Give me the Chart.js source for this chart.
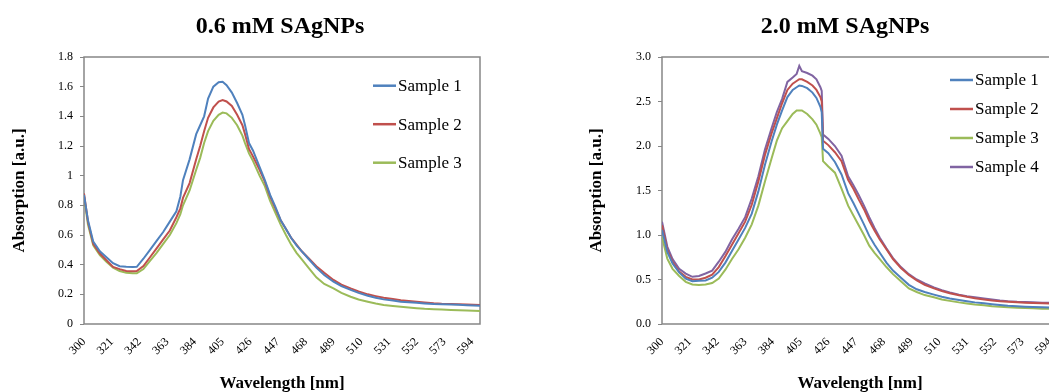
<!DOCTYPE html>
<html>
<head>
<meta charset="utf-8">
<script src="https://cdn.jsdelivr.net/npm/chart.js@4/dist/chart.umd.min.js"></script>
<style>
  html, body { margin: 0; padding: 0; background: #fff; overflow: hidden; width: 1049px; height: 392px; }
  canvas { position: absolute; top: 0; }
  #c1 { left: 0px; }
  #c2 { left: 580px; }
</style>
</head>
<body>
<canvas id="c1" width="560" height="392"></canvas>
<canvas id="c2" width="530" height="392"></canvas>
<script>
// ---------- data ----------
const xTickLabels = [300, 321, 342, 363, 384, 405, 426, 447, 468, 489, 510, 531, 552, 573, 594];

// Panel 1: 0.6 mM SAgNPs
const title1 = "0.6 mM SAgNPs";
const wavelengths1 = [300,303,307,312,317,322,327,332,337,340,345,350,355,360,365,370,373,375,380,385,388,391,394,398,402,405,408,412,416,420,422,425,428,433,437,441,445,449,453,457,461,465,470,476,482,489,495,502,508,515,521,527,534,540,546,552,558,565,571,578,584,590,595,600];
const p1Sample1 = [0.87,0.70,0.555,0.49,0.45,0.41,0.39,0.386,0.384,0.385,0.44,0.50,0.56,0.62,0.69,0.76,0.86,0.97,1.11,1.28,1.34,1.40,1.52,1.60,1.63,1.633,1.61,1.56,1.49,1.41,1.34,1.22,1.17,1.06,0.97,0.87,0.79,0.70,0.64,0.58,0.53,0.49,0.44,0.38,0.33,0.285,0.255,0.23,0.21,0.19,0.177,0.166,0.158,0.15,0.146,0.143,0.139,0.135,0.133,0.131,0.129,0.127,0.125,0.123];
const p1Sample2 = [0.88,0.69,0.54,0.475,0.43,0.385,0.37,0.358,0.355,0.357,0.39,0.45,0.51,0.57,0.63,0.72,0.78,0.85,0.95,1.11,1.20,1.30,1.39,1.46,1.50,1.51,1.50,1.47,1.41,1.34,1.28,1.18,1.13,1.04,0.96,0.86,0.78,0.70,0.64,0.58,0.535,0.49,0.445,0.39,0.345,0.297,0.265,0.24,0.22,0.20,0.188,0.177,0.168,0.16,0.155,0.15,0.145,0.14,0.137,0.135,0.133,0.132,0.13,0.128];
const p1Sample3 = [0.86,0.67,0.53,0.465,0.42,0.38,0.357,0.345,0.342,0.342,0.37,0.425,0.48,0.54,0.60,0.68,0.74,0.80,0.90,1.04,1.12,1.22,1.30,1.37,1.41,1.425,1.42,1.39,1.34,1.27,1.22,1.15,1.10,1.00,0.93,0.83,0.75,0.67,0.60,0.535,0.48,0.435,0.38,0.315,0.27,0.24,0.21,0.184,0.165,0.15,0.138,0.128,0.122,0.117,0.111,0.106,0.102,0.10,0.097,0.094,0.092,0.091,0.09,0.088];
const yTicks1 = { min: 0, max: 1.8, step: 0.2 };

// Panel 2: 2.0 mM SAgNPs
const title2 = "2.0 mM SAgNPs";
const wavelengths2 = [300,304,308,313,318,323,328,333,338,343,348,353,358,363,368,373,378,383,387,391,395,399,402,404,406,410,414,417,420,421,422,426,431,436,441,445,449,453,457,461,465,470,475,481,487,493,499,506,512,518,525,531,537,544,550,556,562,569,575,581,588,594,600];
const p2Sample1 = [1.06,0.81,0.68,0.58,0.51,0.48,0.485,0.49,0.52,0.585,0.69,0.82,0.95,1.08,1.24,1.49,1.79,2.05,2.24,2.40,2.55,2.63,2.66,2.68,2.675,2.65,2.60,2.54,2.44,2.38,1.97,1.92,1.82,1.68,1.47,1.36,1.24,1.12,0.99,0.89,0.80,0.69,0.60,0.52,0.44,0.39,0.36,0.33,0.306,0.287,0.27,0.256,0.243,0.232,0.222,0.213,0.205,0.199,0.194,0.19,0.187,0.185,0.183];
const p2Sample2 = [1.11,0.83,0.70,0.59,0.53,0.50,0.50,0.52,0.555,0.64,0.76,0.89,1.02,1.15,1.34,1.60,1.90,2.14,2.31,2.48,2.63,2.70,2.73,2.75,2.75,2.72,2.68,2.63,2.55,2.50,2.06,2.01,1.93,1.83,1.62,1.52,1.40,1.29,1.16,1.05,0.95,0.84,0.73,0.63,0.55,0.49,0.44,0.40,0.37,0.345,0.323,0.305,0.29,0.276,0.265,0.256,0.25,0.244,0.24,0.236,0.232,0.23,0.228];
const p2Sample3 = [0.98,0.735,0.62,0.54,0.474,0.444,0.437,0.444,0.46,0.51,0.61,0.73,0.84,0.97,1.12,1.33,1.60,1.86,2.06,2.20,2.28,2.36,2.40,2.40,2.40,2.36,2.30,2.24,2.14,2.10,1.83,1.77,1.70,1.52,1.33,1.22,1.11,1.00,0.88,0.80,0.73,0.64,0.56,0.48,0.40,0.36,0.325,0.30,0.276,0.26,0.243,0.231,0.22,0.21,0.20,0.193,0.187,0.183,0.18,0.176,0.172,0.17,0.168];
const p2Sample4 = [1.15,0.87,0.73,0.62,0.567,0.53,0.54,0.567,0.60,0.70,0.81,0.95,1.07,1.20,1.41,1.66,1.96,2.20,2.38,2.53,2.72,2.77,2.81,2.90,2.84,2.82,2.79,2.75,2.66,2.62,2.13,2.08,2.00,1.89,1.66,1.56,1.45,1.33,1.20,1.08,0.97,0.85,0.74,0.64,0.56,0.50,0.455,0.41,0.38,0.355,0.33,0.313,0.30,0.287,0.276,0.265,0.257,0.25,0.246,0.243,0.24,0.24,0.238];
const yTicks2 = { min: 0, max: 3.0, step: 0.5 };

const seriesNames = ["Sample 1", "Sample 2", "Sample 3", "Sample 4"];
const seriesColors = ["#4f81bd", "#c0504d", "#9bbb59", "#8064a2"];

// ---------- helpers ----------
const SERIF = "'Liberation Serif', 'Times New Roman', serif";
const AXIS_GRAY = "#868686";

function pts(xs, ys) { return xs.map((x, i) => ({ x: x, y: ys[i] })); }

const frameAndLegend = {
  id: 'frameAndLegend',
  beforeDatasetsDraw(chart) {
    const a = chart.chartArea, ctx = chart.ctx;
    ctx.save();
    ctx.strokeStyle = AXIS_GRAY;
    ctx.lineWidth = 1.5;
    ctx.strokeRect(a.left, a.top, a.right - a.left, a.bottom - a.top);
    ctx.restore();
  },
  afterDatasetsDraw(chart) {
    const o = chart.options.plugins.frameAndLegend;
    const a = chart.chartArea, ctx = chart.ctx;
    ctx.save();
    ctx.font = "17px " + SERIF;
    ctx.textBaseline = 'middle';
    ctx.textAlign = 'left';
    chart.data.datasets.forEach((ds, i) => {
      const y = a.top + o.top + i * o.gap;
      const x0 = a.right - o.fromRight;
      ctx.strokeStyle = ds.borderColor;
      ctx.lineWidth = 2.5;
      ctx.beginPath();
      ctx.moveTo(x0, y);
      ctx.lineTo(x0 + o.lineLen, y);
      ctx.stroke();
      ctx.fillStyle = '#000';
      ctx.fillText(ds.label, x0 + o.lineLen + 2, y + 1);
    });
    ctx.restore();
  }
};

function makeChart(id, title, xs, seriesList, yt, yWidth, rightPad, legendOpts, fmt) {
  const datasets = seriesList.map((ys, i) => ({
    label: seriesNames[i],
    data: pts(xs, ys),
    borderColor: seriesColors[i],
    backgroundColor: seriesColors[i],
    borderWidth: 2,
    pointRadius: 0,
    tension: 0,
    fill: false
  }));
  return new Chart(document.getElementById(id), {
    type: 'line',
    data: { datasets: datasets },
    plugins: [frameAndLegend],
    options: {
      responsive: false,
      animation: false,
      events: [],
      layout: { padding: 0 },
      plugins: {
        legend: { display: false },
        tooltip: { enabled: false },
        title: {
          display: true,
          text: title,
          color: '#000',
          font: { family: SERIF, size: 24, weight: 'bold', lineHeight: 1.2 },
          padding: { top: 12, bottom: 16.2 }
        },
        frameAndLegend: legendOpts
      },
      scales: {
        x: {
          type: 'linear',
          min: 300,
          max: 600,
          afterBuildTicks: (s) => { s.ticks = xTickLabels.map(v => ({ value: v })); },
          afterFit: (s) => { s.height = 68; },
          grid: { display: false, drawTicks: false },
          border: { display: false },
          ticks: {
            autoSkip: false,
            minRotation: 45,
            maxRotation: 45,
            padding: 11,
            color: '#000',
            font: { family: SERIF, size: 12 },
            callback: (v) => String(v)
          },
          title: {
            display: true,
            text: 'Wavelength [nm]',
            color: '#000',
            font: { family: SERIF, size: 17, weight: 'bold', lineHeight: 1.0 },
            padding: { top: 0, bottom: 0 }
          }
        },
        y: {
          position: 'left',
          min: yt.min,
          max: yt.max,
          afterFit: (s) => { s.width = yWidth; },
          grid: { display: true, drawOnChartArea: false, drawTicks: true, tickLength: 4, color: AXIS_GRAY },
          border: { display: false },
          ticks: {
            stepSize: yt.step,
            padding: 7,
            color: '#000',
            font: { family: SERIF, size: 12 },
            callback: fmt
          },
          title: {
            display: true,
            text: 'Absorption [a.u.]',
            color: '#000',
            font: { family: SERIF, size: 17, weight: 'bold', lineHeight: 1.2 },
            padding: { top: yWidth === 84 ? 9 : 6.5, bottom: 0 }
          }
        },
        yRightSpace: {
          position: 'right',
          display: true,
          afterFit: (s) => { s.width = rightPad; },
          grid: { display: false, drawTicks: false },
          border: { display: false },
          ticks: { display: false }
        }
      }
    }
  });
}

makeChart('c1', title1, wavelengths1, [p1Sample1, p1Sample2, p1Sample3], yTicks1, 84, 80,
  { top: 28.7, gap: 38.5, fromRight: 107, lineLen: 23 },
  (v) => String(Math.round(v * 10) / 10));

makeChart('c2', title2, wavelengths2, [p2Sample1, p2Sample2, p2Sample3, p2Sample4], yTicks2, 82, 52,
  { top: 23, gap: 29, fromRight: 108, lineLen: 23 },
  (v) => Number(v).toFixed(1));
</script>
</body>
</html>
